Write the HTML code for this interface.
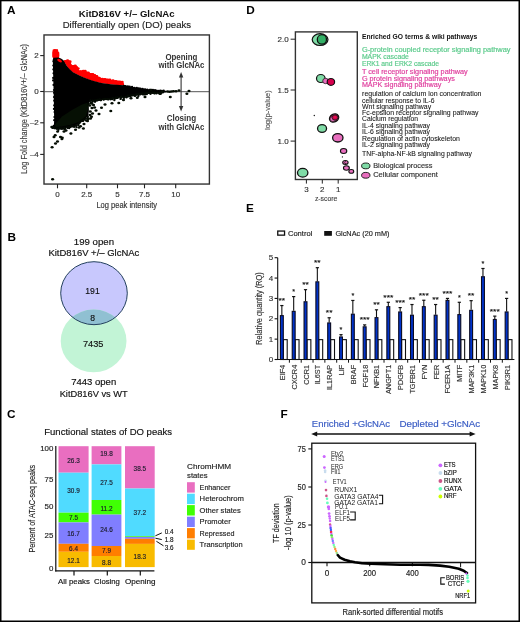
<!DOCTYPE html>
<html><head><meta charset="utf-8"><style>
html,body{margin:0;padding:0;background:#fff;width:520px;height:622px;overflow:hidden}
svg{display:block;will-change:transform}
text{font-family:"Liberation Sans",sans-serif}
</style></head><body>
<svg width="520" height="622" viewBox="0 0 520 622">
<rect width="520" height="622" fill="#fff"/>
<text x="6.90" y="14.00" font-size="11.8" font-weight="bold" >A</text>
<text x="246.20" y="14.00" font-size="11.8" font-weight="bold" >D</text>
<text x="7.60" y="240.90" font-size="11.8" font-weight="bold" >B</text>
<text x="246.00" y="212.00" font-size="11.8" font-weight="bold" >E</text>
<text x="7.00" y="417.90" font-size="11.8" font-weight="bold" >C</text>
<text x="280.60" y="417.60" font-size="11.8" font-weight="bold" >F</text>
<text x="78.80" y="16.80" font-size="9.0" font-weight="bold" fill="#111" textLength="95.80" lengthAdjust="spacingAndGlyphs" >KitD816V +/– GlcNAc</text>
<text x="62.70" y="28.40" font-size="9.6" fill="#222" stroke="#222" stroke-width="0.15" textLength="128.40" lengthAdjust="spacingAndGlyphs" >Differentially open (DO) peaks</text>
<line x1="44.30" y1="91.70" x2="209.50" y2="91.70" stroke="#555" stroke-width="1.0" />
<path d="M52.20,52.50 L52.80,49.60 L54.50,49.00 L57.90,49.20 L58.30,51.40 L59.30,52.60 L59.40,56.00 L58.80,57.90 L53.00,58.20 L52.20,56.50 Z" fill="#ff0000" />
<path d="M64.00,61.50 L65.50,59.90 L69.00,60.20 L71.00,61.50 L71.00,63.50 L72.30,65.30 L75.00,65.00 L77.70,66.20 L78.50,68.50 L79.20,70.40 L84.00,70.30 L86.00,71.00 L88.00,72.00 L90.00,72.90 L93.00,73.60 L96.90,75.20 L99.00,77.20 L101.50,78.10 L106.00,78.60 L110.80,79.80 L115.00,80.20 L120.00,81.30 L122.50,81.60 L124.00,83.60 L124.00,85.40 L123.50,85.50 L120.00,85.30 L110.80,84.50 L101.50,83.30 L92.00,80.90 L88.00,79.20 L84.00,77.70 L80.00,76.10 L77.00,74.60 L73.00,72.50 L70.00,69.90 L67.00,66.60 L65.10,63.30 L64.00,62.90 Z" fill="#ff0000" />
<ellipse cx="65.00" cy="61.33" rx="1.6" ry="1.35" fill="#ff0000"/>
<ellipse cx="67.58" cy="60.55" rx="1.6" ry="1.35" fill="#ff0000"/>
<ellipse cx="70.04" cy="61.72" rx="1.6" ry="1.35" fill="#ff0000"/>
<ellipse cx="72.66" cy="66.39" rx="1.6" ry="1.35" fill="#ff0000"/>
<ellipse cx="75.17" cy="65.81" rx="1.6" ry="1.35" fill="#ff0000"/>
<ellipse cx="78.08" cy="68.52" rx="1.6" ry="1.35" fill="#ff0000"/>
<ellipse cx="80.31" cy="71.60" rx="1.6" ry="1.35" fill="#ff0000"/>
<ellipse cx="83.24" cy="70.99" rx="1.6" ry="1.35" fill="#ff0000"/>
<ellipse cx="85.10" cy="71.10" rx="1.6" ry="1.35" fill="#ff0000"/>
<ellipse cx="88.25" cy="72.83" rx="1.6" ry="1.35" fill="#ff0000"/>
<ellipse cx="90.91" cy="74.27" rx="1.6" ry="1.35" fill="#ff0000"/>
<ellipse cx="92.74" cy="74.36" rx="1.6" ry="1.35" fill="#ff0000"/>
<ellipse cx="94.62" cy="75.39" rx="1.6" ry="1.35" fill="#ff0000"/>
<ellipse cx="96.76" cy="76.41" rx="1.6" ry="1.35" fill="#ff0000"/>
<ellipse cx="99.21" cy="78.18" rx="1.6" ry="1.35" fill="#ff0000"/>
<ellipse cx="102.19" cy="79.01" rx="1.6" ry="1.35" fill="#ff0000"/>
<ellipse cx="104.88" cy="79.33" rx="1.6" ry="1.35" fill="#ff0000"/>
<ellipse cx="107.61" cy="79.89" rx="1.6" ry="1.35" fill="#ff0000"/>
<ellipse cx="109.80" cy="79.95" rx="1.6" ry="1.35" fill="#ff0000"/>
<ellipse cx="112.99" cy="80.55" rx="1.6" ry="1.35" fill="#ff0000"/>
<ellipse cx="115.78" cy="81.39" rx="1.6" ry="1.35" fill="#ff0000"/>
<ellipse cx="117.91" cy="81.88" rx="1.6" ry="1.35" fill="#ff0000"/>
<ellipse cx="119.80" cy="81.87" rx="1.6" ry="1.35" fill="#ff0000"/>
<ellipse cx="122.16" cy="82.10" rx="1.6" ry="1.35" fill="#ff0000"/>
<path d="M52.80,59.00 L53.50,57.80 L58.60,57.40 L61.00,58.40 L63.20,59.90 L65.10,63.00 L67.00,66.30 L70.00,69.60 L73.00,72.20 L77.00,74.30 L80.00,75.80 L84.00,77.40 L88.00,78.90 L92.00,80.60 L101.50,83.00 L110.80,84.20 L120.00,85.00 L123.50,85.20 L136.20,87.60 L150.00,89.60 L158.00,90.30 L166.00,90.70 L166.00,92.50 L158.00,92.80 L150.00,93.40 L136.20,95.00 L124.60,97.10 L113.00,98.60 L101.50,100.00 L95.00,100.60 L90.00,101.40 L88.60,104.00 L88.90,110.00 L88.40,115.50 L84.50,119.60 L78.80,123.20 L74.90,126.30 L67.00,127.60 L62.40,128.50 L56.00,129.00 L53.80,128.00 L53.80,127.00 L54.20,120.00 L53.80,100.00 L53.30,80.00 L52.80,59.00 Z" fill="#000" />
<ellipse cx="59.6" cy="60.6" rx="2.7" ry="1.35" transform="rotate(33 59.6 60.6)" fill="#ff0000"/>
<path d="M55.00,124.50 L62.00,116.50 L72.00,110.00 L82.00,104.50 L88.50,102.50 L88.30,108.00 L86.00,116.00 L80.00,121.50 L72.00,124.50 L62.00,126.50 L55.50,127.00 Z" fill="#061004" />
<circle cx="53.18" cy="127.53" r="1.20" fill="#040a03" />
<circle cx="52.49" cy="127.86" r="1.20" fill="#040a03" />
<circle cx="54.94" cy="128.01" r="1.20" fill="#040a03" />
<circle cx="54.38" cy="128.05" r="1.20" fill="#040a03" />
<circle cx="56.68" cy="128.65" r="1.20" fill="#040a03" />
<circle cx="57.16" cy="128.38" r="1.20" fill="#040a03" />
<circle cx="58.83" cy="128.33" r="1.20" fill="#040a03" />
<circle cx="58.39" cy="129.82" r="1.20" fill="#040a03" />
<circle cx="60.52" cy="128.28" r="1.20" fill="#040a03" />
<circle cx="59.84" cy="127.94" r="1.20" fill="#040a03" />
<circle cx="62.01" cy="128.58" r="1.20" fill="#040a03" />
<circle cx="61.25" cy="128.51" r="1.20" fill="#040a03" />
<circle cx="63.67" cy="128.27" r="1.20" fill="#040a03" />
<circle cx="63.09" cy="128.42" r="1.20" fill="#040a03" />
<circle cx="64.99" cy="127.71" r="1.20" fill="#040a03" />
<circle cx="64.85" cy="129.07" r="1.20" fill="#040a03" />
<circle cx="67.41" cy="127.84" r="1.20" fill="#040a03" />
<circle cx="67.30" cy="127.11" r="1.20" fill="#040a03" />
<circle cx="69.16" cy="127.94" r="1.20" fill="#040a03" />
<circle cx="68.98" cy="127.23" r="1.20" fill="#040a03" />
<circle cx="70.29" cy="126.89" r="1.20" fill="#040a03" />
<circle cx="70.70" cy="126.32" r="1.20" fill="#040a03" />
<circle cx="72.15" cy="126.35" r="1.20" fill="#040a03" />
<circle cx="72.26" cy="126.01" r="1.20" fill="#040a03" />
<circle cx="74.15" cy="126.46" r="1.20" fill="#040a03" />
<circle cx="74.03" cy="126.46" r="1.20" fill="#040a03" />
<circle cx="76.43" cy="127.10" r="1.20" fill="#040a03" />
<circle cx="75.87" cy="125.38" r="1.20" fill="#040a03" />
<circle cx="78.14" cy="124.94" r="1.20" fill="#040a03" />
<circle cx="78.55" cy="123.82" r="1.20" fill="#040a03" />
<circle cx="80.39" cy="121.80" r="1.20" fill="#040a03" />
<circle cx="79.61" cy="122.78" r="1.20" fill="#040a03" />
<circle cx="81.52" cy="120.67" r="1.20" fill="#040a03" />
<circle cx="82.37" cy="120.91" r="1.20" fill="#040a03" />
<circle cx="84.02" cy="119.40" r="1.20" fill="#040a03" />
<circle cx="83.07" cy="120.68" r="1.20" fill="#040a03" />
<circle cx="85.81" cy="120.39" r="1.20" fill="#040a03" />
<circle cx="85.86" cy="118.65" r="1.20" fill="#040a03" />
<circle cx="87.56" cy="117.12" r="1.20" fill="#040a03" />
<circle cx="87.65" cy="116.69" r="1.20" fill="#040a03" />
<circle cx="88.33" cy="103.52" r="1.20" fill="#040a03" />
<circle cx="88.64" cy="103.95" r="1.20" fill="#040a03" />
<circle cx="90.55" cy="100.50" r="1.20" fill="#040a03" />
<circle cx="90.49" cy="100.58" r="1.20" fill="#040a03" />
<circle cx="92.63" cy="101.50" r="1.20" fill="#040a03" />
<circle cx="92.75" cy="100.58" r="1.20" fill="#040a03" />
<circle cx="95.02" cy="101.67" r="1.20" fill="#040a03" />
<circle cx="95.13" cy="100.49" r="1.20" fill="#040a03" />
<circle cx="96.41" cy="100.33" r="1.20" fill="#040a03" />
<circle cx="97.04" cy="100.19" r="1.20" fill="#040a03" />
<circle cx="97.94" cy="100.05" r="1.20" fill="#040a03" />
<circle cx="98.15" cy="99.74" r="1.20" fill="#040a03" />
<circle cx="99.32" cy="99.87" r="1.20" fill="#040a03" />
<circle cx="99.63" cy="99.36" r="1.20" fill="#040a03" />
<circle cx="100.80" cy="100.10" r="1.20" fill="#040a03" />
<circle cx="100.93" cy="100.11" r="1.20" fill="#040a03" />
<circle cx="103.39" cy="99.32" r="1.20" fill="#040a03" />
<circle cx="103.56" cy="99.37" r="1.20" fill="#040a03" />
<circle cx="104.36" cy="99.17" r="1.20" fill="#040a03" />
<circle cx="104.65" cy="98.83" r="1.20" fill="#040a03" />
<circle cx="105.93" cy="98.85" r="1.20" fill="#040a03" />
<circle cx="107.04" cy="99.06" r="1.20" fill="#040a03" />
<circle cx="107.86" cy="99.04" r="1.20" fill="#040a03" />
<circle cx="108.46" cy="99.25" r="1.20" fill="#040a03" />
<circle cx="110.52" cy="98.97" r="1.20" fill="#040a03" />
<circle cx="110.65" cy="99.12" r="1.20" fill="#040a03" />
<circle cx="112.71" cy="98.03" r="1.20" fill="#040a03" />
<circle cx="112.17" cy="98.98" r="1.20" fill="#040a03" />
<circle cx="114.42" cy="98.65" r="1.20" fill="#040a03" />
<circle cx="114.37" cy="100.09" r="1.20" fill="#040a03" />
<circle cx="116.24" cy="97.43" r="1.20" fill="#040a03" />
<circle cx="116.04" cy="98.03" r="1.20" fill="#040a03" />
<circle cx="117.36" cy="97.92" r="1.20" fill="#040a03" />
<circle cx="117.88" cy="97.33" r="1.20" fill="#040a03" />
<circle cx="120.59" cy="98.90" r="1.20" fill="#040a03" />
<circle cx="120.55" cy="97.58" r="1.20" fill="#040a03" />
<circle cx="121.40" cy="96.79" r="1.20" fill="#040a03" />
<circle cx="121.41" cy="97.30" r="1.20" fill="#040a03" />
<circle cx="123.77" cy="97.80" r="1.20" fill="#040a03" />
<circle cx="123.97" cy="97.42" r="1.20" fill="#040a03" />
<circle cx="126.48" cy="97.19" r="1.20" fill="#040a03" />
<circle cx="126.33" cy="96.72" r="1.20" fill="#040a03" />
<circle cx="128.49" cy="96.22" r="1.20" fill="#040a03" />
<circle cx="127.94" cy="95.74" r="1.20" fill="#040a03" />
<circle cx="130.22" cy="96.15" r="1.20" fill="#040a03" />
<circle cx="130.88" cy="95.42" r="1.20" fill="#040a03" />
<circle cx="132.05" cy="95.10" r="1.20" fill="#040a03" />
<circle cx="132.95" cy="95.29" r="1.20" fill="#040a03" />
<circle cx="135.25" cy="95.50" r="1.20" fill="#040a03" />
<circle cx="134.86" cy="95.82" r="1.20" fill="#040a03" />
<circle cx="135.84" cy="94.63" r="1.20" fill="#040a03" />
<circle cx="136.99" cy="94.32" r="1.20" fill="#040a03" />
<circle cx="138.39" cy="96.00" r="1.20" fill="#040a03" />
<circle cx="138.92" cy="94.28" r="1.20" fill="#040a03" />
<circle cx="140.45" cy="93.84" r="1.20" fill="#040a03" />
<circle cx="140.39" cy="94.34" r="1.20" fill="#040a03" />
<circle cx="142.24" cy="93.50" r="1.20" fill="#040a03" />
<circle cx="143.18" cy="94.38" r="1.20" fill="#040a03" />
<circle cx="144.92" cy="94.39" r="1.20" fill="#040a03" />
<circle cx="144.34" cy="93.55" r="1.20" fill="#040a03" />
<circle cx="146.79" cy="94.08" r="1.20" fill="#040a03" />
<circle cx="146.18" cy="92.99" r="1.20" fill="#040a03" />
<circle cx="148.96" cy="92.80" r="1.20" fill="#040a03" />
<circle cx="148.20" cy="92.84" r="1.20" fill="#040a03" />
<circle cx="150.26" cy="92.74" r="1.20" fill="#040a03" />
<circle cx="150.49" cy="93.70" r="1.20" fill="#040a03" />
<circle cx="152.50" cy="92.51" r="1.20" fill="#040a03" />
<circle cx="152.12" cy="92.83" r="1.20" fill="#040a03" />
<circle cx="154.18" cy="92.44" r="1.20" fill="#040a03" />
<circle cx="154.42" cy="93.35" r="1.20" fill="#040a03" />
<circle cx="156.42" cy="93.28" r="1.20" fill="#040a03" />
<circle cx="156.43" cy="92.55" r="1.20" fill="#040a03" />
<circle cx="158.48" cy="93.04" r="1.20" fill="#040a03" />
<circle cx="159.04" cy="92.31" r="1.20" fill="#040a03" />
<circle cx="160.32" cy="93.44" r="1.20" fill="#040a03" />
<circle cx="160.68" cy="93.41" r="1.20" fill="#040a03" />
<circle cx="162.50" cy="92.08" r="1.20" fill="#040a03" />
<circle cx="162.88" cy="92.23" r="1.20" fill="#040a03" />
<circle cx="53.41" cy="61.34" r="1.10" fill="#000" />
<circle cx="53.32" cy="65.57" r="1.10" fill="#000" />
<circle cx="53.38" cy="69.43" r="1.10" fill="#000" />
<circle cx="53.53" cy="73.32" r="1.10" fill="#000" />
<circle cx="53.16" cy="77.94" r="1.10" fill="#000" />
<circle cx="53.09" cy="80.44" r="1.10" fill="#000" />
<circle cx="53.52" cy="84.97" r="1.10" fill="#000" />
<circle cx="53.95" cy="89.98" r="1.10" fill="#000" />
<circle cx="54.05" cy="92.86" r="1.10" fill="#000" />
<circle cx="54.04" cy="97.03" r="1.10" fill="#000" />
<circle cx="54.22" cy="100.64" r="1.10" fill="#000" />
<circle cx="54.20" cy="105.44" r="1.10" fill="#000" />
<circle cx="53.93" cy="108.88" r="1.10" fill="#000" />
<circle cx="54.56" cy="112.04" r="1.10" fill="#000" />
<circle cx="54.38" cy="117.02" r="1.10" fill="#000" />
<circle cx="54.19" cy="120.13" r="1.10" fill="#000" />
<circle cx="53.69" cy="125.94" r="1.10" fill="#000" />
<circle cx="124.00" cy="85.80" r="1.15" fill="#000" />
<circle cx="125.60" cy="86.18" r="1.15" fill="#000" />
<circle cx="127.88" cy="86.46" r="1.15" fill="#000" />
<circle cx="129.65" cy="86.53" r="1.15" fill="#000" />
<circle cx="132.07" cy="86.96" r="1.15" fill="#000" />
<circle cx="134.38" cy="87.84" r="1.15" fill="#000" />
<circle cx="136.80" cy="87.95" r="1.15" fill="#000" />
<circle cx="138.87" cy="88.51" r="1.15" fill="#000" />
<circle cx="140.43" cy="88.57" r="1.15" fill="#000" />
<circle cx="142.62" cy="88.92" r="1.15" fill="#000" />
<circle cx="145.06" cy="89.38" r="1.15" fill="#000" />
<circle cx="147.19" cy="89.71" r="1.15" fill="#000" />
<circle cx="149.55" cy="89.90" r="1.15" fill="#000" />
<circle cx="151.12" cy="89.87" r="1.15" fill="#000" />
<circle cx="152.95" cy="89.96" r="1.15" fill="#000" />
<circle cx="155.01" cy="90.21" r="1.15" fill="#000" />
<circle cx="156.64" cy="90.57" r="1.15" fill="#000" />
<circle cx="158.66" cy="90.91" r="1.15" fill="#000" />
<circle cx="160.33" cy="90.73" r="1.15" fill="#000" />
<circle cx="161.88" cy="90.94" r="1.15" fill="#000" />
<circle cx="163.68" cy="90.69" r="1.15" fill="#000" />
<ellipse cx="52.10" cy="147.30" rx="1.55" ry="1.25" fill="#050d03"/>
<ellipse cx="52.60" cy="179.20" rx="1.55" ry="1.25" fill="#050d03"/>
<ellipse cx="110.80" cy="111.00" rx="1.55" ry="1.25" fill="#050d03"/>
<ellipse cx="118.80" cy="102.90" rx="1.55" ry="1.25" fill="#050d03"/>
<ellipse cx="83.40" cy="128.50" rx="1.55" ry="1.25" fill="#050d03"/>
<ellipse cx="70.90" cy="133.50" rx="1.55" ry="1.25" fill="#050d03"/>
<ellipse cx="62.30" cy="137.70" rx="1.55" ry="1.25" fill="#050d03"/>
<ellipse cx="55.50" cy="143.50" rx="1.55" ry="1.25" fill="#050d03"/>
<ellipse cx="94.60" cy="107.50" rx="1.55" ry="1.25" fill="#050d03"/>
<ellipse cx="101.50" cy="107.80" rx="1.55" ry="1.25" fill="#050d03"/>
<ellipse cx="137.30" cy="97.70" rx="1.55" ry="1.25" fill="#050d03"/>
<ellipse cx="123.50" cy="100.00" rx="1.55" ry="1.25" fill="#050d03"/>
<ellipse cx="131.00" cy="98.30" rx="1.55" ry="1.25" fill="#050d03"/>
<ellipse cx="91.70" cy="103.50" rx="1.55" ry="1.25" fill="#050d03"/>
<ellipse cx="170.30" cy="96.90" rx="1.55" ry="1.25" fill="#050d03"/>
<ellipse cx="186.90" cy="93.80" rx="1.55" ry="1.25" fill="#050d03"/>
<ellipse cx="150.80" cy="90.00" rx="1.55" ry="1.25" fill="#050d03"/>
<ellipse cx="154.60" cy="93.00" rx="1.55" ry="1.25" fill="#050d03"/>
<ellipse cx="55.20" cy="135.20" rx="1.55" ry="1.25" fill="#050d03"/>
<ellipse cx="57.60" cy="131.40" rx="1.55" ry="1.25" fill="#050d03"/>
<ellipse cx="60.50" cy="137.10" rx="1.55" ry="1.25" fill="#050d03"/>
<ellipse cx="61.90" cy="139.00" rx="1.55" ry="1.25" fill="#050d03"/>
<ellipse cx="51.80" cy="127.00" rx="1.55" ry="1.25" fill="#050d03"/>
<ellipse cx="92.50" cy="113.50" rx="1.55" ry="1.25" fill="#050d03"/>
<ellipse cx="96.00" cy="110.50" rx="1.55" ry="1.25" fill="#050d03"/>
<ellipse cx="99.00" cy="114.00" rx="1.55" ry="1.25" fill="#050d03"/>
<ellipse cx="105.00" cy="104.50" rx="1.55" ry="1.25" fill="#050d03"/>
<ellipse cx="112.00" cy="103.20" rx="1.55" ry="1.25" fill="#050d03"/>
<ellipse cx="145.00" cy="96.90" rx="1.55" ry="1.25" fill="#050d03"/>
<ellipse cx="160.00" cy="93.80" rx="1.55" ry="1.25" fill="#050d03"/>
<ellipse cx="176.00" cy="91.20" rx="1.55" ry="1.25" fill="#050d03"/>
<ellipse cx="179.00" cy="90.60" rx="1.55" ry="1.25" fill="#050d03"/>
<ellipse cx="167.50" cy="91.40" rx="1.55" ry="1.25" fill="#050d03"/>
<ellipse cx="169.50" cy="91.80" rx="1.55" ry="1.25" fill="#050d03"/>
<ellipse cx="171.50" cy="91.50" rx="1.55" ry="1.25" fill="#050d03"/>
<ellipse cx="173.50" cy="91.20" rx="1.55" ry="1.25" fill="#050d03"/>
<ellipse cx="189.00" cy="91.00" rx="1.55" ry="1.25" fill="#050d03"/>
<ellipse cx="162.00" cy="91.50" rx="1.55" ry="1.25" fill="#050d03"/>
<ellipse cx="57.50" cy="141.50" rx="1.55" ry="1.25" fill="#050d03"/>
<ellipse cx="64.00" cy="131.50" rx="1.55" ry="1.25" fill="#050d03"/>
<ellipse cx="75.50" cy="129.80" rx="1.55" ry="1.25" fill="#050d03"/>
<ellipse cx="87.50" cy="121.00" rx="1.55" ry="1.25" fill="#050d03"/>
<ellipse cx="54.00" cy="137.00" rx="1.55" ry="1.25" fill="#050d03"/>
<ellipse cx="66.00" cy="130.50" rx="1.55" ry="1.25" fill="#050d03"/>
<ellipse cx="79.00" cy="127.50" rx="1.55" ry="1.25" fill="#050d03"/>
<ellipse cx="84.00" cy="124.00" rx="1.55" ry="1.25" fill="#050d03"/>
<ellipse cx="80.50" cy="126.20" rx="1.55" ry="1.25" fill="#050d03"/>
<ellipse cx="90.50" cy="118.50" rx="1.55" ry="1.25" fill="#050d03"/>
<ellipse cx="92.00" cy="108.00" rx="1.55" ry="1.25" fill="#050d03"/>
<ellipse cx="90.30" cy="111.50" rx="1.55" ry="1.25" fill="#050d03"/>
<ellipse cx="89.80" cy="105.50" rx="1.55" ry="1.25" fill="#050d03"/>
<ellipse cx="91.20" cy="103.00" rx="1.55" ry="1.25" fill="#050d03"/>
<ellipse cx="93.50" cy="105.00" rx="1.55" ry="1.25" fill="#050d03"/>
<ellipse cx="90.00" cy="115.00" rx="1.55" ry="1.25" fill="#050d03"/>
<ellipse cx="88.00" cy="119.00" rx="1.55" ry="1.25" fill="#050d03"/>
<ellipse cx="91.50" cy="116.80" rx="1.55" ry="1.25" fill="#050d03"/>
<rect x="44.00" y="34.95" width="165.40" height="149.10" fill="none" stroke="#333" stroke-width="1.4" />
<line x1="40.20" y1="55.60" x2="44.00" y2="55.60" stroke="#222" stroke-width="1.1" />
<text x="38.80" y="58.20" font-size="8.0" text-anchor="end" fill="#333" stroke="#333" stroke-width="0.15" >2</text>
<line x1="40.20" y1="91.50" x2="44.00" y2="91.50" stroke="#222" stroke-width="1.1" />
<text x="38.80" y="94.10" font-size="8.0" text-anchor="end" fill="#333" stroke="#333" stroke-width="0.15" >0</text>
<line x1="40.20" y1="122.80" x2="44.00" y2="122.80" stroke="#222" stroke-width="1.1" />
<text x="38.80" y="125.40" font-size="8.0" text-anchor="end" fill="#333" stroke="#333" stroke-width="0.15" >–2</text>
<line x1="40.20" y1="154.40" x2="44.00" y2="154.40" stroke="#222" stroke-width="1.1" />
<text x="38.80" y="157.00" font-size="8.0" text-anchor="end" fill="#333" stroke="#333" stroke-width="0.15" >–4</text>
<line x1="57.50" y1="184.10" x2="57.50" y2="188.30" stroke="#222" stroke-width="1.1" />
<text x="57.50" y="196.60" font-size="8.0" text-anchor="middle" fill="#333" stroke="#333" stroke-width="0.15" >0</text>
<line x1="86.70" y1="184.10" x2="86.70" y2="188.30" stroke="#222" stroke-width="1.1" />
<text x="86.70" y="196.60" font-size="8.0" text-anchor="middle" fill="#333" stroke="#333" stroke-width="0.15" >2.5</text>
<line x1="117.50" y1="184.10" x2="117.50" y2="188.30" stroke="#222" stroke-width="1.1" />
<text x="117.50" y="196.60" font-size="8.0" text-anchor="middle" fill="#333" stroke="#333" stroke-width="0.15" >5</text>
<line x1="144.50" y1="184.10" x2="144.50" y2="188.30" stroke="#222" stroke-width="1.1" />
<text x="144.50" y="196.60" font-size="8.0" text-anchor="middle" fill="#333" stroke="#333" stroke-width="0.15" >7.5</text>
<line x1="175.70" y1="184.10" x2="175.70" y2="188.30" stroke="#222" stroke-width="1.1" />
<text x="175.70" y="196.60" font-size="8.0" text-anchor="middle" fill="#333" stroke="#333" stroke-width="0.15" >10</text>
<text x="96.40" y="207.90" font-size="8.6" fill="#333" stroke="#333" stroke-width="0.15" textLength="60.60" lengthAdjust="spacingAndGlyphs" >Log peak intensity</text>
<text x="26.60" y="173.80" font-size="8.4" fill="#444" stroke="#444" stroke-width="0.15" textLength="129.80" lengthAdjust="spacingAndGlyphs" transform="rotate(-90 26.60 173.80)" >Log Fold change (KitD816V+/– GlcNAc)</text>
<line x1="181.10" y1="75.50" x2="181.10" y2="108.00" stroke="#333" stroke-width="1.1" />
<path d="M181.10,72.00 L178.90,77.40 L183.30,77.40 Z" fill="#333" />
<path d="M181.10,111.40 L178.90,106.00 L183.30,106.00 Z" fill="#333" />
<text x="181.40" y="59.80" font-size="8.6" text-anchor="middle" font-weight="bold" fill="#333" textLength="32.00" lengthAdjust="spacingAndGlyphs" >Opening</text>
<text x="181.40" y="68.30" font-size="8.6" text-anchor="middle" font-weight="bold" fill="#333" textLength="46.00" lengthAdjust="spacingAndGlyphs" >with GlcNAc</text>
<text x="181.40" y="120.90" font-size="8.6" text-anchor="middle" font-weight="bold" fill="#333" textLength="29.50" lengthAdjust="spacingAndGlyphs" >Closing</text>
<text x="181.40" y="129.50" font-size="8.6" text-anchor="middle" font-weight="bold" fill="#333" textLength="46.00" lengthAdjust="spacingAndGlyphs" >with GlcNAc</text>
<ellipse cx="320.10" cy="39.60" rx="7.90" ry="5.90" fill="#7fdba6" stroke="#111" stroke-width="1.2"/>
<ellipse cx="321.90" cy="39.45" rx="4.60" ry="4.75" fill="#33b066" stroke="#111" stroke-width="1.3"/>
<ellipse cx="320.80" cy="78.50" rx="4.30" ry="4.00" fill="#7fdba6" stroke="#111" stroke-width="1.2"/>
<ellipse cx="325.60" cy="81.00" rx="2.90" ry="2.70" fill="#e86ebe" stroke="#222" stroke-width="0.8"/>
<ellipse cx="330.90" cy="81.90" rx="3.70" ry="3.40" fill="#d8004e" stroke="#111" stroke-width="1.2"/>
<circle cx="314.30" cy="115.50" r="0.70" fill="#111" />
<ellipse cx="334.1" cy="118.0" rx="4.8" ry="3.9" transform="rotate(-28 334.1 118.0)" fill="#b8003f" stroke="#111" stroke-width="1.3"/>
<ellipse cx="332.90" cy="119.00" rx="2.90" ry="2.50" fill="#e86ebe" stroke="#222" stroke-width="0.7"/>
<ellipse cx="335.00" cy="117.50" rx="3.00" ry="2.60" fill="#c8004a" stroke="#222" stroke-width="0.9"/>
<circle cx="335.10" cy="117.30" r="1.30" fill="#e8104f" />
<ellipse cx="322.05" cy="128.50" rx="4.50" ry="3.95" fill="#7fdba6" stroke="#111" stroke-width="1.3"/>
<ellipse cx="337.80" cy="137.80" rx="5.20" ry="4.20" fill="#e86ebe" stroke="#111" stroke-width="1.3"/>
<ellipse cx="343.60" cy="151.00" rx="3.20" ry="2.45" fill="#e86ebe" stroke="#111" stroke-width="1.1"/>
<circle cx="342.40" cy="156.90" r="0.60" fill="#111" />
<ellipse cx="345.40" cy="162.40" rx="2.70" ry="1.95" fill="#e86ebe" stroke="#111" stroke-width="1.1"/>
<path d="M346.2,161.0 A1.6,1.4 0 1 0 346.4,163.8" fill="none" stroke="#111" stroke-width="0.7"/>
<ellipse cx="346.40" cy="168.00" rx="2.95" ry="2.20" fill="#e86ebe" stroke="#111" stroke-width="1.1"/>
<ellipse cx="351.30" cy="171.40" rx="2.45" ry="1.90" fill="#e86ebe" stroke="#111" stroke-width="1.1"/>
<ellipse cx="302.70" cy="172.70" rx="5.20" ry="4.35" fill="#7fdba6" stroke="#111" stroke-width="1.3"/>
<rect x="295.40" y="31.90" width="61.90" height="147.60" fill="none" stroke="#333" stroke-width="1.4" />
<line x1="290.60" y1="39.20" x2="295.30" y2="39.20" stroke="#222" stroke-width="1.0" />
<text x="288.60" y="41.80" font-size="8.0" text-anchor="end" fill="#333" stroke="#333" stroke-width="0.15" >2.0</text>
<line x1="290.60" y1="90.00" x2="295.30" y2="90.00" stroke="#222" stroke-width="1.0" />
<text x="288.60" y="92.60" font-size="8.0" text-anchor="end" fill="#333" stroke="#333" stroke-width="0.15" >1.5</text>
<line x1="290.60" y1="141.10" x2="295.30" y2="141.10" stroke="#222" stroke-width="1.0" />
<text x="288.60" y="143.70" font-size="8.0" text-anchor="end" fill="#333" stroke="#333" stroke-width="0.15" >1.0</text>
<line x1="306.40" y1="179.70" x2="306.40" y2="183.60" stroke="#222" stroke-width="1.0" />
<text x="306.40" y="192.20" font-size="8.0" text-anchor="middle" fill="#333" stroke="#333" stroke-width="0.15" >3</text>
<line x1="322.30" y1="179.70" x2="322.30" y2="183.60" stroke="#222" stroke-width="1.0" />
<text x="322.30" y="192.20" font-size="8.0" text-anchor="middle" fill="#333" stroke="#333" stroke-width="0.15" >2</text>
<line x1="338.20" y1="179.70" x2="338.20" y2="183.60" stroke="#222" stroke-width="1.0" />
<text x="338.20" y="192.20" font-size="8.0" text-anchor="middle" fill="#333" stroke="#333" stroke-width="0.15" >1</text>
<text x="314.90" y="200.70" font-size="8.0" fill="#444" stroke="#444" stroke-width="0.15" textLength="22.50" lengthAdjust="spacingAndGlyphs" >z-score</text>
<text x="270.20" y="130.00" font-size="7.6" fill="#555" stroke="#555" stroke-width="0.15" textLength="39.80" lengthAdjust="spacingAndGlyphs" transform="rotate(-90 270.20 130.00)" >log(p-value)</text>
<text x="361.90" y="39.40" font-size="6.4" font-weight="bold" fill="#111" textLength="115.30" lengthAdjust="spacingAndGlyphs" >Enriched GO terms &amp; wiki pathways</text>
<text x="361.90" y="51.60" font-size="6.6" fill="#5ccb8c" textLength="148.60" lengthAdjust="spacingAndGlyphs" stroke="#5ccb8c" stroke-width="0.18">G-protein coupled receptor signaling pathway</text>
<text x="361.90" y="59.30" font-size="6.6" fill="#5ccb8c" textLength="47.00" lengthAdjust="spacingAndGlyphs" stroke="#5ccb8c" stroke-width="0.18">MAPK cascade</text>
<text x="361.90" y="66.10" font-size="6.6" fill="#5ccb8c" textLength="77.20" lengthAdjust="spacingAndGlyphs" stroke="#5ccb8c" stroke-width="0.18">ERK1 and ERK2 cascade</text>
<text x="361.90" y="73.50" font-size="6.6" fill="#e0409f" textLength="105.80" lengthAdjust="spacingAndGlyphs" stroke="#e0409f" stroke-width="0.18">T cell receptor signaling pathway</text>
<text x="361.90" y="80.50" font-size="6.6" fill="#e0409f" textLength="93.00" lengthAdjust="spacingAndGlyphs" stroke="#e0409f" stroke-width="0.18">G protein signaling pathways</text>
<text x="361.90" y="87.40" font-size="6.6" fill="#e0409f" textLength="79.40" lengthAdjust="spacingAndGlyphs" stroke="#e0409f" stroke-width="0.18">MAPK signaling pathway</text>
<text x="362.10" y="96.10" font-size="6.3" fill="#111" textLength="119.40" lengthAdjust="spacingAndGlyphs" stroke="#222" stroke-width="0.06">regulation of calcium ion concentration</text>
<text x="362.10" y="102.60" font-size="6.3" fill="#111" textLength="72.50" lengthAdjust="spacingAndGlyphs" stroke="#222" stroke-width="0.06">cellular response to IL-6</text>
<text x="362.10" y="108.90" font-size="6.3" fill="#111" textLength="69.00" lengthAdjust="spacingAndGlyphs" stroke="#222" stroke-width="0.06">Wnt signaling pathway</text>
<text x="362.10" y="115.00" font-size="6.3" fill="#111" textLength="116.40" lengthAdjust="spacingAndGlyphs" stroke="#222" stroke-width="0.06">Fc-epsilon receptor signaling pathway</text>
<text x="362.10" y="121.40" font-size="6.3" fill="#111" textLength="55.89" lengthAdjust="spacingAndGlyphs" stroke="#222" stroke-width="0.06">Calcium regulation</text>
<text x="362.10" y="127.90" font-size="6.3" fill="#111" textLength="67.90" lengthAdjust="spacingAndGlyphs" stroke="#222" stroke-width="0.06">IL-4 signaling pathway</text>
<text x="362.10" y="134.30" font-size="6.3" fill="#111" textLength="67.90" lengthAdjust="spacingAndGlyphs" stroke="#222" stroke-width="0.06">IL-6 signaling pathway</text>
<text x="362.10" y="140.60" font-size="6.3" fill="#111" textLength="97.90" lengthAdjust="spacingAndGlyphs" stroke="#222" stroke-width="0.06">Regulation of actin cytoskeleton</text>
<text x="362.10" y="147.10" font-size="6.3" fill="#111" textLength="67.90" lengthAdjust="spacingAndGlyphs" stroke="#222" stroke-width="0.06">IL-2 signaling pathway</text>
<text x="362.10" y="155.80" font-size="6.3" fill="#111" textLength="109.90" lengthAdjust="spacingAndGlyphs" stroke="#222" stroke-width="0.06">TNF-alpha-NF-kB signaling pathway</text>
<ellipse cx="365.8" cy="165.9" rx="4.2" ry="2.9" fill="#7fdba6" stroke="#111" stroke-width="0.9"/>
<ellipse cx="365.8" cy="175.3" rx="4.2" ry="2.9" fill="#e86ebe" stroke="#111" stroke-width="0.9"/>
<text x="373.20" y="167.90" font-size="7.0" fill="#333" stroke="#333" stroke-width="0.15" textLength="59.20" lengthAdjust="spacingAndGlyphs" >Biological process</text>
<text x="373.20" y="177.00" font-size="7.0" fill="#333" stroke="#333" stroke-width="0.15" textLength="64.70" lengthAdjust="spacingAndGlyphs" >Cellular component</text>
<ellipse cx="94.0" cy="293.2" rx="33.3" ry="31.5" fill="#c8c8fd"/>
<ellipse cx="93.6" cy="340.9" rx="32.9" ry="31.4" fill="#c2f4d6"/>
<clipPath id="cpv"><ellipse cx="94.0" cy="293.2" rx="33.3" ry="31.5"/></clipPath>
<ellipse cx="93.6" cy="340.9" rx="32.9" ry="31.4" fill="#90c0d2" clip-path="url(#cpv)"/>
<ellipse cx="94.0" cy="293.2" rx="33.3" ry="31.5" fill="none" stroke="#23405e" stroke-width="1.0"/>
<text x="93.90" y="244.50" font-size="8.6" text-anchor="middle" fill="#111" stroke="#111" stroke-width="0.15" textLength="40.20" lengthAdjust="spacingAndGlyphs" >199 open</text>
<text x="93.90" y="255.70" font-size="8.6" text-anchor="middle" fill="#111" stroke="#111" stroke-width="0.15" textLength="90.90" lengthAdjust="spacingAndGlyphs" >KitD816V +/– GlcNAc</text>
<text x="92.50" y="293.80" font-size="8.6" text-anchor="middle" fill="#111" stroke="#111" stroke-width="0.15" textLength="14.40" lengthAdjust="spacingAndGlyphs" >191</text>
<text x="92.60" y="320.60" font-size="8.6" text-anchor="middle" fill="#111" stroke="#111" stroke-width="0.15" >8</text>
<text x="93.20" y="347.10" font-size="9.6" text-anchor="middle" fill="#111" stroke="#111" stroke-width="0.15" textLength="20.50" lengthAdjust="spacingAndGlyphs" >7435</text>
<text x="93.70" y="384.90" font-size="8.6" text-anchor="middle" fill="#111" stroke="#111" stroke-width="0.15" textLength="45.00" lengthAdjust="spacingAndGlyphs" >7443 open</text>
<text x="93.70" y="396.50" font-size="8.6" text-anchor="middle" fill="#111" stroke="#111" stroke-width="0.15" textLength="68.10" lengthAdjust="spacingAndGlyphs" >KitD816V vs WT</text>
<text x="44.20" y="434.60" font-size="9.4" fill="#111" stroke="#111" stroke-width="0.15" textLength="127.90" lengthAdjust="spacingAndGlyphs" >Functional states of DO peaks</text>
<rect x="58.50" y="446.20" width="30.10" height="26.50" fill="#e96ec0" />
<rect x="58.50" y="472.70" width="30.10" height="40.00" fill="#50dbff" />
<rect x="58.50" y="512.70" width="30.10" height="9.70" fill="#40ff04" />
<rect x="58.50" y="522.40" width="30.10" height="21.40" fill="#807eff" />
<rect x="58.50" y="543.80" width="30.10" height="8.00" fill="#ff7e00" />
<rect x="58.50" y="551.80" width="30.10" height="15.30" fill="#f8bb00" />
<text x="73.55" y="463.20" font-size="6.4" text-anchor="middle" fill="#1a1a2a" stroke="#1a1a2a" stroke-width="0.15" >26.3</text>
<text x="73.55" y="492.50" font-size="6.4" text-anchor="middle" fill="#1a1a2a" stroke="#1a1a2a" stroke-width="0.15" >30.9</text>
<text x="73.55" y="519.70" font-size="6.4" text-anchor="middle" fill="#1a1a2a" stroke="#1a1a2a" stroke-width="0.15" >7.5</text>
<text x="73.55" y="535.60" font-size="6.4" text-anchor="middle" fill="#1a1a2a" stroke="#1a1a2a" stroke-width="0.15" >16.7</text>
<text x="73.55" y="550.70" font-size="6.4" text-anchor="middle" fill="#1a1a2a" stroke="#1a1a2a" stroke-width="0.15" >6.4</text>
<text x="73.55" y="563.40" font-size="6.4" text-anchor="middle" fill="#1a1a2a" stroke="#1a1a2a" stroke-width="0.15" >12.1</text>
<rect x="91.60" y="446.20" width="29.80" height="18.20" fill="#e96ec0" />
<rect x="91.60" y="464.40" width="29.80" height="35.60" fill="#50dbff" />
<rect x="91.60" y="500.00" width="29.80" height="14.60" fill="#40ff04" />
<rect x="91.60" y="514.60" width="29.80" height="31.40" fill="#807eff" />
<rect x="91.60" y="546.00" width="29.80" height="10.00" fill="#ff7e00" />
<rect x="91.60" y="556.00" width="29.80" height="11.10" fill="#f8bb00" />
<text x="106.50" y="456.20" font-size="6.4" text-anchor="middle" fill="#1a1a2a" stroke="#1a1a2a" stroke-width="0.15" >19.8</text>
<text x="106.50" y="484.50" font-size="6.4" text-anchor="middle" fill="#1a1a2a" stroke="#1a1a2a" stroke-width="0.15" >27.5</text>
<text x="106.50" y="510.90" font-size="6.4" text-anchor="middle" fill="#1a1a2a" stroke="#1a1a2a" stroke-width="0.15" >11.2</text>
<text x="106.50" y="531.90" font-size="6.4" text-anchor="middle" fill="#1a1a2a" stroke="#1a1a2a" stroke-width="0.15" >24.6</text>
<text x="106.50" y="552.60" font-size="6.4" text-anchor="middle" fill="#1a1a2a" stroke="#1a1a2a" stroke-width="0.15" >7.9</text>
<text x="106.50" y="564.70" font-size="6.4" text-anchor="middle" fill="#1a1a2a" stroke="#1a1a2a" stroke-width="0.15" >8.8</text>
<rect x="125.00" y="446.20" width="29.70" height="42.30" fill="#e96ec0" />
<rect x="125.00" y="488.50" width="29.70" height="47.60" fill="#50dbff" />
<rect x="125.00" y="536.10" width="29.70" height="0.80" fill="#40ff04" />
<rect x="125.00" y="536.90" width="29.70" height="1.90" fill="#807eff" />
<rect x="125.00" y="538.80" width="29.70" height="5.10" fill="#ff7e00" />
<rect x="125.00" y="543.90" width="29.70" height="23.20" fill="#f8bb00" />
<text x="139.85" y="470.50" font-size="6.4" text-anchor="middle" fill="#1a1a2a" stroke="#1a1a2a" stroke-width="0.15" >38.5</text>
<text x="139.85" y="515.40" font-size="6.4" text-anchor="middle" fill="#1a1a2a" stroke="#1a1a2a" stroke-width="0.15" >37.2</text>
<text x="139.85" y="558.50" font-size="6.4" text-anchor="middle" fill="#1a1a2a" stroke="#1a1a2a" stroke-width="0.15" >18.3</text>
<line x1="55.80" y1="445.90" x2="55.80" y2="571.40" stroke="#111" stroke-width="1.2" />
<line x1="55.20" y1="570.90" x2="154.40" y2="570.90" stroke="#111" stroke-width="1.2" />
<line x1="74.00" y1="570.90" x2="74.00" y2="575.60" stroke="#111" stroke-width="1.2" />
<line x1="107.30" y1="570.90" x2="107.30" y2="575.60" stroke="#111" stroke-width="1.2" />
<line x1="140.30" y1="570.90" x2="140.30" y2="575.60" stroke="#111" stroke-width="1.2" />
<text x="53.30" y="451.30" font-size="7.9" text-anchor="end" fill="#222" stroke="#222" stroke-width="0.15" >100</text>
<text x="53.30" y="481.60" font-size="7.9" text-anchor="end" fill="#222" stroke="#222" stroke-width="0.15" >75</text>
<text x="53.30" y="509.40" font-size="7.9" text-anchor="end" fill="#222" stroke="#222" stroke-width="0.15" >50</text>
<text x="53.30" y="538.30" font-size="7.9" text-anchor="end" fill="#222" stroke="#222" stroke-width="0.15" >25</text>
<text x="53.30" y="571.00" font-size="7.9" text-anchor="end" fill="#222" stroke="#222" stroke-width="0.15" >0</text>
<text x="58.00" y="583.90" font-size="7.8" fill="#111" stroke="#111" stroke-width="0.15" textLength="31.90" lengthAdjust="spacingAndGlyphs" >All peaks</text>
<text x="94.10" y="583.80" font-size="7.8" fill="#111" stroke="#111" stroke-width="0.15" textLength="25.80" lengthAdjust="spacingAndGlyphs" >Closing</text>
<text x="125.00" y="583.80" font-size="7.8" fill="#111" stroke="#111" stroke-width="0.15" textLength="30.60" lengthAdjust="spacingAndGlyphs" >Opening</text>
<text x="35.30" y="552.50" font-size="8.5" fill="#222" stroke="#222" stroke-width="0.15" textLength="87.70" lengthAdjust="spacingAndGlyphs" transform="rotate(-90 35.30 552.50)" >Percent of ATAC-seq peaks</text>
<line x1="155.40" y1="535.80" x2="161.80" y2="532.90" stroke="#111" stroke-width="1.0" />
<line x1="155.40" y1="538.20" x2="161.80" y2="539.60" stroke="#111" stroke-width="1.0" />
<line x1="156.40" y1="541.30" x2="163.50" y2="545.80" stroke="#111" stroke-width="1.0" />
<text x="164.80" y="534.40" font-size="6.4" fill="#111" stroke="#111" stroke-width="0.15" textLength="8.80" lengthAdjust="spacingAndGlyphs" >0.4</text>
<text x="164.80" y="541.50" font-size="6.4" fill="#111" stroke="#111" stroke-width="0.15" textLength="8.80" lengthAdjust="spacingAndGlyphs" >1.8</text>
<text x="164.80" y="550.40" font-size="6.4" fill="#111" stroke="#111" stroke-width="0.15" textLength="8.80" lengthAdjust="spacingAndGlyphs" >3.6</text>
<text x="187.00" y="468.60" font-size="7.8" fill="#222" stroke="#222" stroke-width="0.15" textLength="44.10" lengthAdjust="spacingAndGlyphs" >ChromHMM</text>
<text x="187.00" y="477.50" font-size="7.8" fill="#222" stroke="#222" stroke-width="0.15" textLength="20.70" lengthAdjust="spacingAndGlyphs" >states</text>
<rect x="187.00" y="482.20" width="7.80" height="10.40" fill="#e96ec0" />
<text x="199.60" y="489.60" font-size="7.6" fill="#222" stroke="#222" stroke-width="0.15" textLength="30.70" lengthAdjust="spacingAndGlyphs" >Enhancer</text>
<rect x="187.00" y="493.70" width="7.80" height="10.40" fill="#50dbff" />
<text x="199.60" y="501.00" font-size="7.6" fill="#222" stroke="#222" stroke-width="0.15" textLength="44.40" lengthAdjust="spacingAndGlyphs" >Heterochrom</text>
<rect x="187.00" y="505.10" width="7.80" height="10.40" fill="#40ff04" />
<text x="199.60" y="512.50" font-size="7.6" fill="#222" stroke="#222" stroke-width="0.15" textLength="41.20" lengthAdjust="spacingAndGlyphs" >Other states</text>
<rect x="187.00" y="516.70" width="7.80" height="10.30" fill="#807eff" />
<text x="199.60" y="523.90" font-size="7.6" fill="#222" stroke="#222" stroke-width="0.15" textLength="31.10" lengthAdjust="spacingAndGlyphs" >Promoter</text>
<rect x="187.00" y="528.10" width="7.80" height="10.30" fill="#ff7e00" />
<text x="199.60" y="535.50" font-size="7.6" fill="#222" stroke="#222" stroke-width="0.15" textLength="34.80" lengthAdjust="spacingAndGlyphs" >Repressed</text>
<rect x="187.00" y="539.60" width="7.80" height="10.20" fill="#f8bb00" />
<text x="199.60" y="547.00" font-size="7.6" fill="#222" stroke="#222" stroke-width="0.15" textLength="43.00" lengthAdjust="spacingAndGlyphs" >Transcription</text>
<rect x="277.75" y="231.05" width="6.80" height="4.10" fill="#fff" stroke="#111" stroke-width="1.3" />
<text x="287.90" y="235.50" font-size="7.4" fill="#222" stroke="#222" stroke-width="0.15" textLength="24.50" lengthAdjust="spacingAndGlyphs" >Control</text>
<rect x="324.20" y="231.00" width="7.70" height="4.80" fill="#111" />
<text x="335.40" y="235.80" font-size="7.4" fill="#222" stroke="#222" stroke-width="0.15" textLength="54.10" lengthAdjust="spacingAndGlyphs" >GlcNAc (20 mM)</text>
<line x1="281.85" y1="315.12" x2="281.85" y2="305.55" stroke="#111" stroke-width="1.1" />
<line x1="280.25" y1="305.55" x2="283.45" y2="305.55" stroke="#111" stroke-width="1.2" />
<rect x="283.30" y="339.64" width="3.90" height="19.86" fill="#fff" stroke="#111" stroke-width="1.1" />
<rect x="280.40" y="315.62" width="2.90" height="43.88" fill="#0033cc" stroke="#0a0a20" stroke-width="1.1" />
<text x="281.85" y="303.15" font-size="7.2" text-anchor="middle" fill="#111" stroke="#111" stroke-width="0.15" textLength="6.60" lengthAdjust="spacingAndGlyphs" >**</text>
<text x="284.85" y="364.80" font-size="7.3" text-anchor="end" fill="#333" stroke="#333" stroke-width="0.15" transform="rotate(-90 284.85 364.80)" >EIF4</text>
<line x1="293.68" y1="310.84" x2="293.68" y2="296.59" stroke="#111" stroke-width="1.1" />
<line x1="292.08" y1="296.59" x2="295.28" y2="296.59" stroke="#111" stroke-width="1.2" />
<rect x="295.13" y="339.64" width="3.90" height="19.86" fill="#fff" stroke="#111" stroke-width="1.1" />
<rect x="292.23" y="311.34" width="2.90" height="48.16" fill="#0033cc" stroke="#0a0a20" stroke-width="1.1" />
<text x="293.68" y="294.19" font-size="7.2" text-anchor="middle" fill="#111" stroke="#111" stroke-width="0.15" >*</text>
<text x="296.68" y="364.80" font-size="7.3" text-anchor="end" fill="#333" stroke="#333" stroke-width="0.15" transform="rotate(-90 296.68 364.80)" >CXCR4</text>
<line x1="289.38" y1="359.50" x2="289.38" y2="362.70" stroke="#111" stroke-width="1.0" />
<line x1="305.51" y1="301.27" x2="305.51" y2="289.67" stroke="#111" stroke-width="1.1" />
<line x1="303.91" y1="289.67" x2="307.11" y2="289.67" stroke="#111" stroke-width="1.2" />
<rect x="306.96" y="339.64" width="3.90" height="19.86" fill="#fff" stroke="#111" stroke-width="1.1" />
<rect x="304.06" y="301.77" width="2.90" height="57.73" fill="#0033cc" stroke="#0a0a20" stroke-width="1.1" />
<text x="305.51" y="287.27" font-size="7.2" text-anchor="middle" fill="#111" stroke="#111" stroke-width="0.15" textLength="6.60" lengthAdjust="spacingAndGlyphs" >**</text>
<text x="308.51" y="364.80" font-size="7.3" text-anchor="end" fill="#333" stroke="#333" stroke-width="0.15" transform="rotate(-90 308.51 364.80)" >CCR1</text>
<line x1="301.21" y1="359.50" x2="301.21" y2="362.70" stroke="#111" stroke-width="1.0" />
<line x1="317.34" y1="281.32" x2="317.34" y2="267.68" stroke="#111" stroke-width="1.1" />
<line x1="315.74" y1="267.68" x2="318.94" y2="267.68" stroke="#111" stroke-width="1.2" />
<rect x="318.79" y="339.64" width="3.90" height="19.86" fill="#fff" stroke="#111" stroke-width="1.1" />
<rect x="315.89" y="281.82" width="2.90" height="77.68" fill="#0033cc" stroke="#0a0a20" stroke-width="1.1" />
<text x="317.34" y="265.28" font-size="7.2" text-anchor="middle" fill="#111" stroke="#111" stroke-width="0.15" textLength="6.60" lengthAdjust="spacingAndGlyphs" >**</text>
<text x="320.34" y="364.80" font-size="7.3" text-anchor="end" fill="#333" stroke="#333" stroke-width="0.15" transform="rotate(-90 320.34 364.80)" >IL6ST</text>
<line x1="313.04" y1="359.50" x2="313.04" y2="362.70" stroke="#111" stroke-width="1.0" />
<line x1="329.17" y1="322.44" x2="329.17" y2="317.76" stroke="#111" stroke-width="1.1" />
<line x1="327.57" y1="317.76" x2="330.77" y2="317.76" stroke="#111" stroke-width="1.2" />
<rect x="330.62" y="339.64" width="3.90" height="19.86" fill="#fff" stroke="#111" stroke-width="1.1" />
<rect x="327.72" y="322.94" width="2.90" height="36.56" fill="#0033cc" stroke="#0a0a20" stroke-width="1.1" />
<text x="329.17" y="315.36" font-size="7.2" text-anchor="middle" fill="#111" stroke="#111" stroke-width="0.15" textLength="6.60" lengthAdjust="spacingAndGlyphs" >**</text>
<text x="332.17" y="364.80" font-size="7.3" text-anchor="end" fill="#333" stroke="#333" stroke-width="0.15" transform="rotate(-90 332.17 364.80)" >IL1RAP</text>
<line x1="324.87" y1="359.50" x2="324.87" y2="362.70" stroke="#111" stroke-width="1.0" />
<line x1="341.00" y1="336.49" x2="341.00" y2="334.66" stroke="#111" stroke-width="1.1" />
<line x1="339.40" y1="334.66" x2="342.60" y2="334.66" stroke="#111" stroke-width="1.2" />
<rect x="342.45" y="339.64" width="3.90" height="19.86" fill="#fff" stroke="#111" stroke-width="1.1" />
<rect x="339.55" y="336.99" width="2.90" height="22.51" fill="#0033cc" stroke="#0a0a20" stroke-width="1.1" />
<text x="341.00" y="332.26" font-size="7.2" text-anchor="middle" fill="#111" stroke="#111" stroke-width="0.15" >*</text>
<text x="344.00" y="364.80" font-size="7.3" text-anchor="end" fill="#333" stroke="#333" stroke-width="0.15" transform="rotate(-90 344.00 364.80)" >LIF</text>
<line x1="336.70" y1="359.50" x2="336.70" y2="362.70" stroke="#111" stroke-width="1.0" />
<line x1="352.83" y1="313.69" x2="352.83" y2="300.46" stroke="#111" stroke-width="1.1" />
<line x1="351.23" y1="300.46" x2="354.43" y2="300.46" stroke="#111" stroke-width="1.2" />
<rect x="354.28" y="339.64" width="3.90" height="19.86" fill="#fff" stroke="#111" stroke-width="1.1" />
<rect x="351.38" y="314.19" width="2.90" height="45.31" fill="#0033cc" stroke="#0a0a20" stroke-width="1.1" />
<text x="352.83" y="298.06" font-size="7.2" text-anchor="middle" fill="#111" stroke="#111" stroke-width="0.15" >*</text>
<text x="355.83" y="364.80" font-size="7.3" text-anchor="end" fill="#333" stroke="#333" stroke-width="0.15" transform="rotate(-90 355.83 364.80)" >BRAF</text>
<line x1="348.53" y1="359.50" x2="348.53" y2="362.70" stroke="#111" stroke-width="1.0" />
<line x1="364.66" y1="326.31" x2="364.66" y2="324.89" stroke="#111" stroke-width="1.1" />
<line x1="363.06" y1="324.89" x2="366.26" y2="324.89" stroke="#111" stroke-width="1.2" />
<rect x="366.11" y="339.64" width="3.90" height="19.86" fill="#fff" stroke="#111" stroke-width="1.1" />
<rect x="363.21" y="326.81" width="2.90" height="32.69" fill="#0033cc" stroke="#0a0a20" stroke-width="1.1" />
<text x="364.66" y="322.49" font-size="7.2" text-anchor="middle" fill="#111" stroke="#111" stroke-width="0.15" textLength="10.00" lengthAdjust="spacingAndGlyphs" >***</text>
<text x="367.66" y="364.80" font-size="7.3" text-anchor="end" fill="#333" stroke="#333" stroke-width="0.15" transform="rotate(-90 367.66 364.80)" >FGF18</text>
<line x1="360.36" y1="359.50" x2="360.36" y2="362.70" stroke="#111" stroke-width="1.0" />
<line x1="376.49" y1="317.15" x2="376.49" y2="309.82" stroke="#111" stroke-width="1.1" />
<line x1="374.89" y1="309.82" x2="378.09" y2="309.82" stroke="#111" stroke-width="1.2" />
<rect x="377.94" y="339.64" width="3.90" height="19.86" fill="#fff" stroke="#111" stroke-width="1.1" />
<rect x="375.04" y="317.65" width="2.90" height="41.85" fill="#0033cc" stroke="#0a0a20" stroke-width="1.1" />
<text x="376.49" y="307.42" font-size="7.2" text-anchor="middle" fill="#111" stroke="#111" stroke-width="0.15" textLength="6.60" lengthAdjust="spacingAndGlyphs" >**</text>
<text x="379.49" y="364.80" font-size="7.3" text-anchor="end" fill="#333" stroke="#333" stroke-width="0.15" transform="rotate(-90 379.49 364.80)" >NFKB1</text>
<line x1="372.19" y1="359.50" x2="372.19" y2="362.70" stroke="#111" stroke-width="1.0" />
<line x1="388.32" y1="306.16" x2="388.32" y2="302.29" stroke="#111" stroke-width="1.1" />
<line x1="386.72" y1="302.29" x2="389.92" y2="302.29" stroke="#111" stroke-width="1.2" />
<rect x="389.77" y="339.64" width="3.90" height="19.86" fill="#fff" stroke="#111" stroke-width="1.1" />
<rect x="386.87" y="306.66" width="2.90" height="52.84" fill="#0033cc" stroke="#0a0a20" stroke-width="1.1" />
<text x="388.32" y="299.89" font-size="7.2" text-anchor="middle" fill="#111" stroke="#111" stroke-width="0.15" textLength="10.00" lengthAdjust="spacingAndGlyphs" >***</text>
<text x="391.32" y="364.80" font-size="7.3" text-anchor="end" fill="#333" stroke="#333" stroke-width="0.15" transform="rotate(-90 391.32 364.80)" >ANGPT1</text>
<line x1="384.02" y1="359.50" x2="384.02" y2="362.70" stroke="#111" stroke-width="1.0" />
<line x1="400.15" y1="311.45" x2="400.15" y2="307.58" stroke="#111" stroke-width="1.1" />
<line x1="398.55" y1="307.58" x2="401.75" y2="307.58" stroke="#111" stroke-width="1.2" />
<rect x="401.60" y="339.64" width="3.90" height="19.86" fill="#fff" stroke="#111" stroke-width="1.1" />
<rect x="398.70" y="311.95" width="2.90" height="47.55" fill="#0033cc" stroke="#0a0a20" stroke-width="1.1" />
<text x="400.15" y="305.18" font-size="7.2" text-anchor="middle" fill="#111" stroke="#111" stroke-width="0.15" textLength="10.00" lengthAdjust="spacingAndGlyphs" >***</text>
<text x="403.15" y="364.80" font-size="7.3" text-anchor="end" fill="#333" stroke="#333" stroke-width="0.15" transform="rotate(-90 403.15 364.80)" >PDGFB</text>
<line x1="395.85" y1="359.50" x2="395.85" y2="362.70" stroke="#111" stroke-width="1.0" />
<line x1="411.98" y1="314.71" x2="411.98" y2="304.53" stroke="#111" stroke-width="1.1" />
<line x1="410.38" y1="304.53" x2="413.58" y2="304.53" stroke="#111" stroke-width="1.2" />
<rect x="413.43" y="339.64" width="3.90" height="19.86" fill="#fff" stroke="#111" stroke-width="1.1" />
<rect x="410.53" y="315.21" width="2.90" height="44.29" fill="#0033cc" stroke="#0a0a20" stroke-width="1.1" />
<text x="411.98" y="302.13" font-size="7.2" text-anchor="middle" fill="#111" stroke="#111" stroke-width="0.15" textLength="6.60" lengthAdjust="spacingAndGlyphs" >**</text>
<text x="414.98" y="364.80" font-size="7.3" text-anchor="end" fill="#333" stroke="#333" stroke-width="0.15" transform="rotate(-90 414.98 364.80)" >TGFBR1</text>
<line x1="407.68" y1="359.50" x2="407.68" y2="362.70" stroke="#111" stroke-width="1.0" />
<line x1="423.81" y1="306.16" x2="423.81" y2="300.25" stroke="#111" stroke-width="1.1" />
<line x1="422.21" y1="300.25" x2="425.41" y2="300.25" stroke="#111" stroke-width="1.2" />
<rect x="425.26" y="339.64" width="3.90" height="19.86" fill="#fff" stroke="#111" stroke-width="1.1" />
<rect x="422.36" y="306.66" width="2.90" height="52.84" fill="#0033cc" stroke="#0a0a20" stroke-width="1.1" />
<text x="423.81" y="297.85" font-size="7.2" text-anchor="middle" fill="#111" stroke="#111" stroke-width="0.15" textLength="10.00" lengthAdjust="spacingAndGlyphs" >***</text>
<text x="426.81" y="364.80" font-size="7.3" text-anchor="end" fill="#333" stroke="#333" stroke-width="0.15" transform="rotate(-90 426.81 364.80)" >FYN</text>
<line x1="419.51" y1="359.50" x2="419.51" y2="362.70" stroke="#111" stroke-width="1.0" />
<line x1="435.64" y1="314.71" x2="435.64" y2="304.53" stroke="#111" stroke-width="1.1" />
<line x1="434.04" y1="304.53" x2="437.24" y2="304.53" stroke="#111" stroke-width="1.2" />
<rect x="437.09" y="339.64" width="3.90" height="19.86" fill="#fff" stroke="#111" stroke-width="1.1" />
<rect x="434.19" y="315.21" width="2.90" height="44.29" fill="#0033cc" stroke="#0a0a20" stroke-width="1.1" />
<text x="435.64" y="302.13" font-size="7.2" text-anchor="middle" fill="#111" stroke="#111" stroke-width="0.15" textLength="6.60" lengthAdjust="spacingAndGlyphs" >**</text>
<text x="438.64" y="364.80" font-size="7.3" text-anchor="end" fill="#333" stroke="#333" stroke-width="0.15" transform="rotate(-90 438.64 364.80)" >FER</text>
<line x1="431.34" y1="359.50" x2="431.34" y2="362.70" stroke="#111" stroke-width="1.0" />
<line x1="447.47" y1="299.85" x2="447.47" y2="298.42" stroke="#111" stroke-width="1.1" />
<line x1="445.87" y1="298.42" x2="449.07" y2="298.42" stroke="#111" stroke-width="1.2" />
<rect x="448.92" y="339.64" width="3.90" height="19.86" fill="#fff" stroke="#111" stroke-width="1.1" />
<rect x="446.02" y="300.35" width="2.90" height="59.15" fill="#0033cc" stroke="#0a0a20" stroke-width="1.1" />
<text x="447.47" y="296.02" font-size="7.2" text-anchor="middle" fill="#111" stroke="#111" stroke-width="0.15" textLength="10.00" lengthAdjust="spacingAndGlyphs" >***</text>
<text x="450.47" y="364.80" font-size="7.3" text-anchor="end" fill="#333" stroke="#333" stroke-width="0.15" transform="rotate(-90 450.47 364.80)" >FCER1A</text>
<line x1="443.17" y1="359.50" x2="443.17" y2="362.70" stroke="#111" stroke-width="1.0" />
<line x1="459.30" y1="314.10" x2="459.30" y2="302.29" stroke="#111" stroke-width="1.1" />
<line x1="457.70" y1="302.29" x2="460.90" y2="302.29" stroke="#111" stroke-width="1.2" />
<rect x="460.75" y="339.64" width="3.90" height="19.86" fill="#fff" stroke="#111" stroke-width="1.1" />
<rect x="457.85" y="314.60" width="2.90" height="44.90" fill="#0033cc" stroke="#0a0a20" stroke-width="1.1" />
<text x="459.30" y="299.89" font-size="7.2" text-anchor="middle" fill="#111" stroke="#111" stroke-width="0.15" >*</text>
<text x="462.30" y="364.80" font-size="7.3" text-anchor="end" fill="#333" stroke="#333" stroke-width="0.15" transform="rotate(-90 462.30 364.80)" >MITF</text>
<line x1="455.00" y1="359.50" x2="455.00" y2="362.70" stroke="#111" stroke-width="1.0" />
<line x1="471.13" y1="309.82" x2="471.13" y2="300.66" stroke="#111" stroke-width="1.1" />
<line x1="469.53" y1="300.66" x2="472.73" y2="300.66" stroke="#111" stroke-width="1.2" />
<rect x="472.58" y="339.64" width="3.90" height="19.86" fill="#fff" stroke="#111" stroke-width="1.1" />
<rect x="469.68" y="310.32" width="2.90" height="49.18" fill="#0033cc" stroke="#0a0a20" stroke-width="1.1" />
<text x="471.13" y="298.26" font-size="7.2" text-anchor="middle" fill="#111" stroke="#111" stroke-width="0.15" textLength="6.60" lengthAdjust="spacingAndGlyphs" >**</text>
<text x="474.13" y="364.80" font-size="7.3" text-anchor="end" fill="#333" stroke="#333" stroke-width="0.15" transform="rotate(-90 474.13 364.80)" >MAP3K1</text>
<line x1="466.83" y1="359.50" x2="466.83" y2="362.70" stroke="#111" stroke-width="1.0" />
<line x1="482.96" y1="276.23" x2="482.96" y2="268.49" stroke="#111" stroke-width="1.1" />
<line x1="481.36" y1="268.49" x2="484.56" y2="268.49" stroke="#111" stroke-width="1.2" />
<rect x="484.41" y="339.64" width="3.90" height="19.86" fill="#fff" stroke="#111" stroke-width="1.1" />
<rect x="481.51" y="276.73" width="2.90" height="82.77" fill="#0033cc" stroke="#0a0a20" stroke-width="1.1" />
<text x="482.96" y="266.09" font-size="7.2" text-anchor="middle" fill="#111" stroke="#111" stroke-width="0.15" >*</text>
<text x="485.96" y="364.80" font-size="7.3" text-anchor="end" fill="#333" stroke="#333" stroke-width="0.15" transform="rotate(-90 485.96 364.80)" >MAPK10</text>
<line x1="478.66" y1="359.50" x2="478.66" y2="362.70" stroke="#111" stroke-width="1.0" />
<line x1="494.79" y1="318.98" x2="494.79" y2="316.13" stroke="#111" stroke-width="1.1" />
<line x1="493.19" y1="316.13" x2="496.39" y2="316.13" stroke="#111" stroke-width="1.2" />
<rect x="496.24" y="339.64" width="3.90" height="19.86" fill="#fff" stroke="#111" stroke-width="1.1" />
<rect x="493.34" y="319.48" width="2.90" height="40.02" fill="#0033cc" stroke="#0a0a20" stroke-width="1.1" />
<text x="494.79" y="313.73" font-size="7.2" text-anchor="middle" fill="#111" stroke="#111" stroke-width="0.15" textLength="10.00" lengthAdjust="spacingAndGlyphs" >***</text>
<text x="497.79" y="364.80" font-size="7.3" text-anchor="end" fill="#333" stroke="#333" stroke-width="0.15" transform="rotate(-90 497.79 364.80)" >MAPK8</text>
<line x1="490.49" y1="359.50" x2="490.49" y2="362.70" stroke="#111" stroke-width="1.0" />
<line x1="506.62" y1="311.45" x2="506.62" y2="298.42" stroke="#111" stroke-width="1.1" />
<line x1="505.02" y1="298.42" x2="508.22" y2="298.42" stroke="#111" stroke-width="1.2" />
<rect x="508.07" y="339.64" width="3.90" height="19.86" fill="#fff" stroke="#111" stroke-width="1.1" />
<rect x="505.17" y="311.95" width="2.90" height="47.55" fill="#0033cc" stroke="#0a0a20" stroke-width="1.1" />
<text x="506.62" y="296.02" font-size="7.2" text-anchor="middle" fill="#111" stroke="#111" stroke-width="0.15" >*</text>
<text x="509.62" y="364.80" font-size="7.3" text-anchor="end" fill="#333" stroke="#333" stroke-width="0.15" transform="rotate(-90 509.62 364.80)" >PIK3R1</text>
<line x1="502.32" y1="359.50" x2="502.32" y2="362.70" stroke="#111" stroke-width="1.0" />
<line x1="277.70" y1="257.70" x2="277.70" y2="360.00" stroke="#111" stroke-width="1.1" />
<line x1="277.20" y1="359.50" x2="514.40" y2="359.50" stroke="#111" stroke-width="1.1" />
<line x1="274.60" y1="359.50" x2="277.70" y2="359.50" stroke="#111" stroke-width="1.1" />
<text x="273.20" y="362.10" font-size="8.0" text-anchor="end" fill="#333" stroke="#333" stroke-width="0.15" >0</text>
<line x1="274.60" y1="339.14" x2="277.70" y2="339.14" stroke="#111" stroke-width="1.1" />
<text x="273.20" y="341.74" font-size="8.0" text-anchor="end" fill="#333" stroke="#333" stroke-width="0.15" >1</text>
<line x1="274.60" y1="318.78" x2="277.70" y2="318.78" stroke="#111" stroke-width="1.1" />
<text x="273.20" y="321.38" font-size="8.0" text-anchor="end" fill="#333" stroke="#333" stroke-width="0.15" >2</text>
<line x1="274.60" y1="298.42" x2="277.70" y2="298.42" stroke="#111" stroke-width="1.1" />
<text x="273.20" y="301.02" font-size="8.0" text-anchor="end" fill="#333" stroke="#333" stroke-width="0.15" >3</text>
<line x1="274.60" y1="278.06" x2="277.70" y2="278.06" stroke="#111" stroke-width="1.1" />
<text x="273.20" y="280.66" font-size="8.0" text-anchor="end" fill="#333" stroke="#333" stroke-width="0.15" >4</text>
<line x1="274.60" y1="257.70" x2="277.70" y2="257.70" stroke="#111" stroke-width="1.1" />
<text x="273.20" y="260.30" font-size="8.0" text-anchor="end" fill="#333" stroke="#333" stroke-width="0.15" >5</text>
<text x="262.40" y="344.70" font-size="8.4" fill="#333" stroke="#333" stroke-width="0.15" textLength="72.50" lengthAdjust="spacingAndGlyphs" transform="rotate(-90 262.40 344.70)" >Relative quantity (RQ)</text>
<text x="311.80" y="426.80" font-size="8.6" fill="#3a5cc4" stroke="#3a5cc4" stroke-width="0.15" textLength="78.30" lengthAdjust="spacingAndGlyphs" >Enriched +GlcNAc</text>
<text x="399.40" y="426.90" font-size="8.6" fill="#3a5cc4" stroke="#3a5cc4" stroke-width="0.15" textLength="80.80" lengthAdjust="spacingAndGlyphs" >Depleted +GlcNAc</text>
<line x1="315.00" y1="434.00" x2="471.50" y2="434.00" stroke="#111" stroke-width="1.3" />
<path d="M311.20,434.00 L317.20,431.50 L317.20,436.50 Z" fill="#111" />
<path d="M475.60,434.00 L469.60,431.50 L469.60,436.50 Z" fill="#111" />
<rect x="311.80" y="443.20" width="163.80" height="159.70" fill="none" stroke="#111" stroke-width="1.3" />
<line x1="311.80" y1="562.50" x2="475.60" y2="562.50" stroke="#111" stroke-width="1.4" />
<line x1="460.60" y1="562.50" x2="460.60" y2="567.30" stroke="#111" stroke-width="1.0" />
<line x1="308.30" y1="448.90" x2="311.80" y2="448.90" stroke="#111" stroke-width="1.1" />
<text x="305.80" y="451.60" font-size="8.4" text-anchor="end" fill="#222" stroke="#222" stroke-width="0.15" textLength="8.30" lengthAdjust="spacingAndGlyphs" >75</text>
<line x1="308.30" y1="487.00" x2="311.80" y2="487.00" stroke="#111" stroke-width="1.1" />
<text x="305.80" y="489.70" font-size="8.4" text-anchor="end" fill="#222" stroke="#222" stroke-width="0.15" textLength="8.30" lengthAdjust="spacingAndGlyphs" >50</text>
<line x1="308.30" y1="525.00" x2="311.80" y2="525.00" stroke="#111" stroke-width="1.1" />
<text x="305.80" y="527.70" font-size="8.4" text-anchor="end" fill="#222" stroke="#222" stroke-width="0.15" textLength="8.30" lengthAdjust="spacingAndGlyphs" >25</text>
<line x1="308.30" y1="562.50" x2="311.80" y2="562.50" stroke="#111" stroke-width="1.1" />
<text x="305.80" y="565.20" font-size="8.4" text-anchor="end" fill="#222" stroke="#222" stroke-width="0.15" >0</text>
<line x1="327.00" y1="562.50" x2="327.00" y2="566.20" stroke="#111" stroke-width="1.1" />
<text x="327.00" y="575.60" font-size="8.2" text-anchor="middle" fill="#222" stroke="#222" stroke-width="0.15" >0</text>
<line x1="369.70" y1="562.50" x2="369.70" y2="566.20" stroke="#111" stroke-width="1.1" />
<text x="369.70" y="575.60" font-size="8.2" text-anchor="middle" fill="#222" stroke="#222" stroke-width="0.15" textLength="12.80" lengthAdjust="spacingAndGlyphs" >200</text>
<line x1="412.40" y1="562.50" x2="412.40" y2="566.20" stroke="#111" stroke-width="1.1" />
<text x="412.40" y="575.60" font-size="8.2" text-anchor="middle" fill="#222" stroke="#222" stroke-width="0.15" textLength="12.80" lengthAdjust="spacingAndGlyphs" >400</text>
<text x="342.50" y="614.60" font-size="8.5" fill="#222" stroke="#222" stroke-width="0.15" textLength="100.50" lengthAdjust="spacingAndGlyphs" >Rank-sorted differential motifs</text>
<text x="279.00" y="543.00" font-size="8.2" fill="#222" stroke="#222" stroke-width="0.15" textLength="39.80" lengthAdjust="spacingAndGlyphs" transform="rotate(-90 279.00 543.00)" >TF deviation</text>
<text x="290.50" y="550.00" font-size="8.2" fill="#222" stroke="#222" stroke-width="0.15" textLength="54.70" lengthAdjust="spacingAndGlyphs" transform="rotate(-90 290.50 550.00)" >-log 10 (p-value)</text>
<path d="M337.70,555.00 L340.00,557.60 L344.60,559.70 L350.00,561.30 L355.00,562.30 L362.00,563.20 L370.60,563.70 L385.00,564.20 L400.00,564.70 L420.00,564.80 L428.60,564.90 L440.00,565.60 L449.20,566.80 L458.80,568.80 L463.70,570.70 L467.00,573.10" fill="none" stroke="#000" stroke-width="2.6" stroke-linecap="round" stroke-linejoin="round"/>
<circle cx="324.20" cy="456.40" r="1.50" fill="#cc66ff" />
<circle cx="324.40" cy="467.60" r="1.40" fill="#cc66ff" />
<circle cx="325.10" cy="470.60" r="1.30" fill="#c8dcee" />
<circle cx="325.10" cy="471.90" r="1.30" fill="#c8dcee" />
<circle cx="325.50" cy="480.70" r="1.30" fill="#c8dcee" />
<circle cx="325.50" cy="482.00" r="1.00" fill="#cc66ff" />
<circle cx="326.00" cy="490.10" r="1.30" fill="#cc5588" />
<circle cx="326.40" cy="495.90" r="1.30" fill="#cc5588" />
<circle cx="327.10" cy="498.80" r="1.30" fill="#66ffbb" />
<circle cx="327.40" cy="502.90" r="1.40" fill="#66ffbb" />
<circle cx="328.50" cy="506.90" r="1.70" fill="#cc66ff" />
<circle cx="328.80" cy="509.00" r="1.30" fill="#cc66ff" />
<circle cx="329.10" cy="513.60" r="1.40" fill="#cc66ff" />
<circle cx="329.50" cy="516.30" r="1.40" fill="#cc66ff" />
<circle cx="329.80" cy="518.50" r="1.20" fill="#cc66ff" />
<circle cx="330.10" cy="521.00" r="1.30" fill="#cc66ff" />
<circle cx="330.10" cy="524.40" r="1.20" fill="#cc5588" />
<circle cx="330.40" cy="526.00" r="1.20" fill="#cc66ff" />
<circle cx="330.60" cy="528.00" r="1.30" fill="#5555ff" />
<circle cx="330.90" cy="530.00" r="1.20" fill="#3366ff" />
<circle cx="331.10" cy="532.00" r="1.30" fill="#ff2244" />
<circle cx="331.40" cy="534.00" r="1.20" fill="#cc66ff" />
<circle cx="331.60" cy="535.50" r="1.30" fill="#44dd44" />
<circle cx="332.00" cy="537.30" r="1.20" fill="#88ee66" />
<circle cx="332.40" cy="539.00" r="1.20" fill="#cc66ff" />
<circle cx="332.80" cy="541.00" r="1.20" fill="#6688ff" />
<circle cx="333.30" cy="543.00" r="1.20" fill="#cc66ff" />
<circle cx="333.80" cy="545.00" r="1.20" fill="#66ffbb" />
<circle cx="334.50" cy="547.00" r="1.20" fill="#99ee77" />
<circle cx="335.20" cy="549.00" r="1.20" fill="#ff8844" />
<circle cx="336.00" cy="551.00" r="1.20" fill="#ffaa44" />
<circle cx="336.80" cy="553.00" r="1.20" fill="#99dd88" />
<circle cx="466.30" cy="573.60" r="1.10" fill="#cc66ff" />
<circle cx="467.50" cy="575.50" r="1.20" fill="#66ffbb" />
<circle cx="467.50" cy="577.90" r="1.30" fill="#66ffbb" />
<circle cx="468.00" cy="581.30" r="1.60" fill="#66ffbb" />
<circle cx="468.20" cy="590.90" r="1.50" fill="#ccff00" />
<text x="330.90" y="455.80" font-size="6.6" fill="#222" textLength="12.30" lengthAdjust="spacingAndGlyphs" stroke-opacity="0">Etv2</text>
<text x="330.90" y="461.40" font-size="6.6" fill="#222" textLength="13.80" lengthAdjust="spacingAndGlyphs" stroke-opacity="0">ETS1</text>
<text x="330.90" y="468.50" font-size="6.6" fill="#222" textLength="12.30" lengthAdjust="spacingAndGlyphs" stroke-opacity="0">ERG</text>
<text x="330.90" y="473.50" font-size="6.6" fill="#222" textLength="9.70" lengthAdjust="spacingAndGlyphs" stroke-opacity="0">Fli1</text>
<text x="332.80" y="484.20" font-size="6.6" fill="#222" textLength="13.90" lengthAdjust="spacingAndGlyphs" stroke-opacity="0">ETV1</text>
<text x="334.20" y="492.20" font-size="6.6" fill="#222" textLength="23.20" lengthAdjust="spacingAndGlyphs" stroke-opacity="0">RUNX1</text>
<text x="334.20" y="498.50" font-size="6.6" fill="#222" textLength="44.30" lengthAdjust="spacingAndGlyphs" stroke-opacity="0">GATA3 GATA4</text>
<text x="334.20" y="504.60" font-size="6.6" fill="#222" textLength="43.80" lengthAdjust="spacingAndGlyphs" stroke-opacity="0">GATA2 GATA1</text>
<text x="335.10" y="509.10" font-size="6.6" fill="#222" textLength="12.80" lengthAdjust="spacingAndGlyphs" stroke-opacity="0">PU.1</text>
<text x="335.10" y="515.20" font-size="6.6" fill="#222" textLength="14.90" lengthAdjust="spacingAndGlyphs" stroke-opacity="0">ELF1</text>
<text x="335.10" y="521.00" font-size="6.6" fill="#222" textLength="14.90" lengthAdjust="spacingAndGlyphs" stroke-opacity="0">ELF5</text>
<path d="M378.90,495.30 L382.60,495.30 L382.60,503.80 L378.90,503.80" fill="none" stroke="#111" stroke-width="1.1" />
<path d="M350.10,512.00 L355.20,512.00 L355.20,519.90 L350.10,519.90" fill="none" stroke="#111" stroke-width="1.1" />
<text x="445.90" y="580.00" font-size="6.6" fill="#111" stroke="#111" stroke-width="0.15" textLength="18.40" lengthAdjust="spacingAndGlyphs" >BORIS</text>
<text x="447.80" y="585.60" font-size="6.6" fill="#111" stroke="#111" stroke-width="0.15" textLength="16.50" lengthAdjust="spacingAndGlyphs" >CTCF</text>
<text x="455.20" y="597.60" font-size="6.6" fill="#111" stroke="#111" stroke-width="0.15" textLength="14.90" lengthAdjust="spacingAndGlyphs" >NRF1</text>
<path d="M444.90,577.70 L440.80,577.70 L440.80,584.10 L444.90,584.10" fill="none" stroke="#111" stroke-width="1.1" />
<circle cx="440.40" cy="465.30" r="1.90" fill="#cc66ff" />
<text x="443.90" y="467.20" font-size="6.4" fill="#111" stroke="#111" stroke-width="0.15" textLength="11.70" lengthAdjust="spacingAndGlyphs" >ETS</text>
<circle cx="440.40" cy="473.00" r="1.90" fill="#c8dcee" />
<text x="443.90" y="474.90" font-size="6.4" fill="#111" stroke="#111" stroke-width="0.15" textLength="12.90" lengthAdjust="spacingAndGlyphs" >bZIP</text>
<circle cx="440.40" cy="481.00" r="1.90" fill="#cc5588" />
<text x="443.90" y="482.90" font-size="6.4" fill="#111" stroke="#111" stroke-width="0.15" textLength="17.80" lengthAdjust="spacingAndGlyphs" >RUNX</text>
<circle cx="440.40" cy="488.80" r="1.90" fill="#66ffbb" />
<text x="443.90" y="490.70" font-size="6.4" fill="#111" stroke="#111" stroke-width="0.15" textLength="18.00" lengthAdjust="spacingAndGlyphs" >GATA</text>
<circle cx="440.40" cy="496.50" r="1.90" fill="#ccff00" />
<text x="443.90" y="498.40" font-size="6.4" fill="#111" stroke="#111" stroke-width="0.15" textLength="12.70" lengthAdjust="spacingAndGlyphs" >NRF</text>
<rect x="0.00" y="0.00" width="1.50" height="622.00" fill="#000" />
<rect x="0.00" y="0.00" width="520.00" height="1.30" fill="#000" />
<rect x="518.50" y="0.00" width="1.50" height="622.00" fill="#000" />
<rect x="0.00" y="620.50" width="520.00" height="1.50" fill="#000" />
</svg>
</body></html>
